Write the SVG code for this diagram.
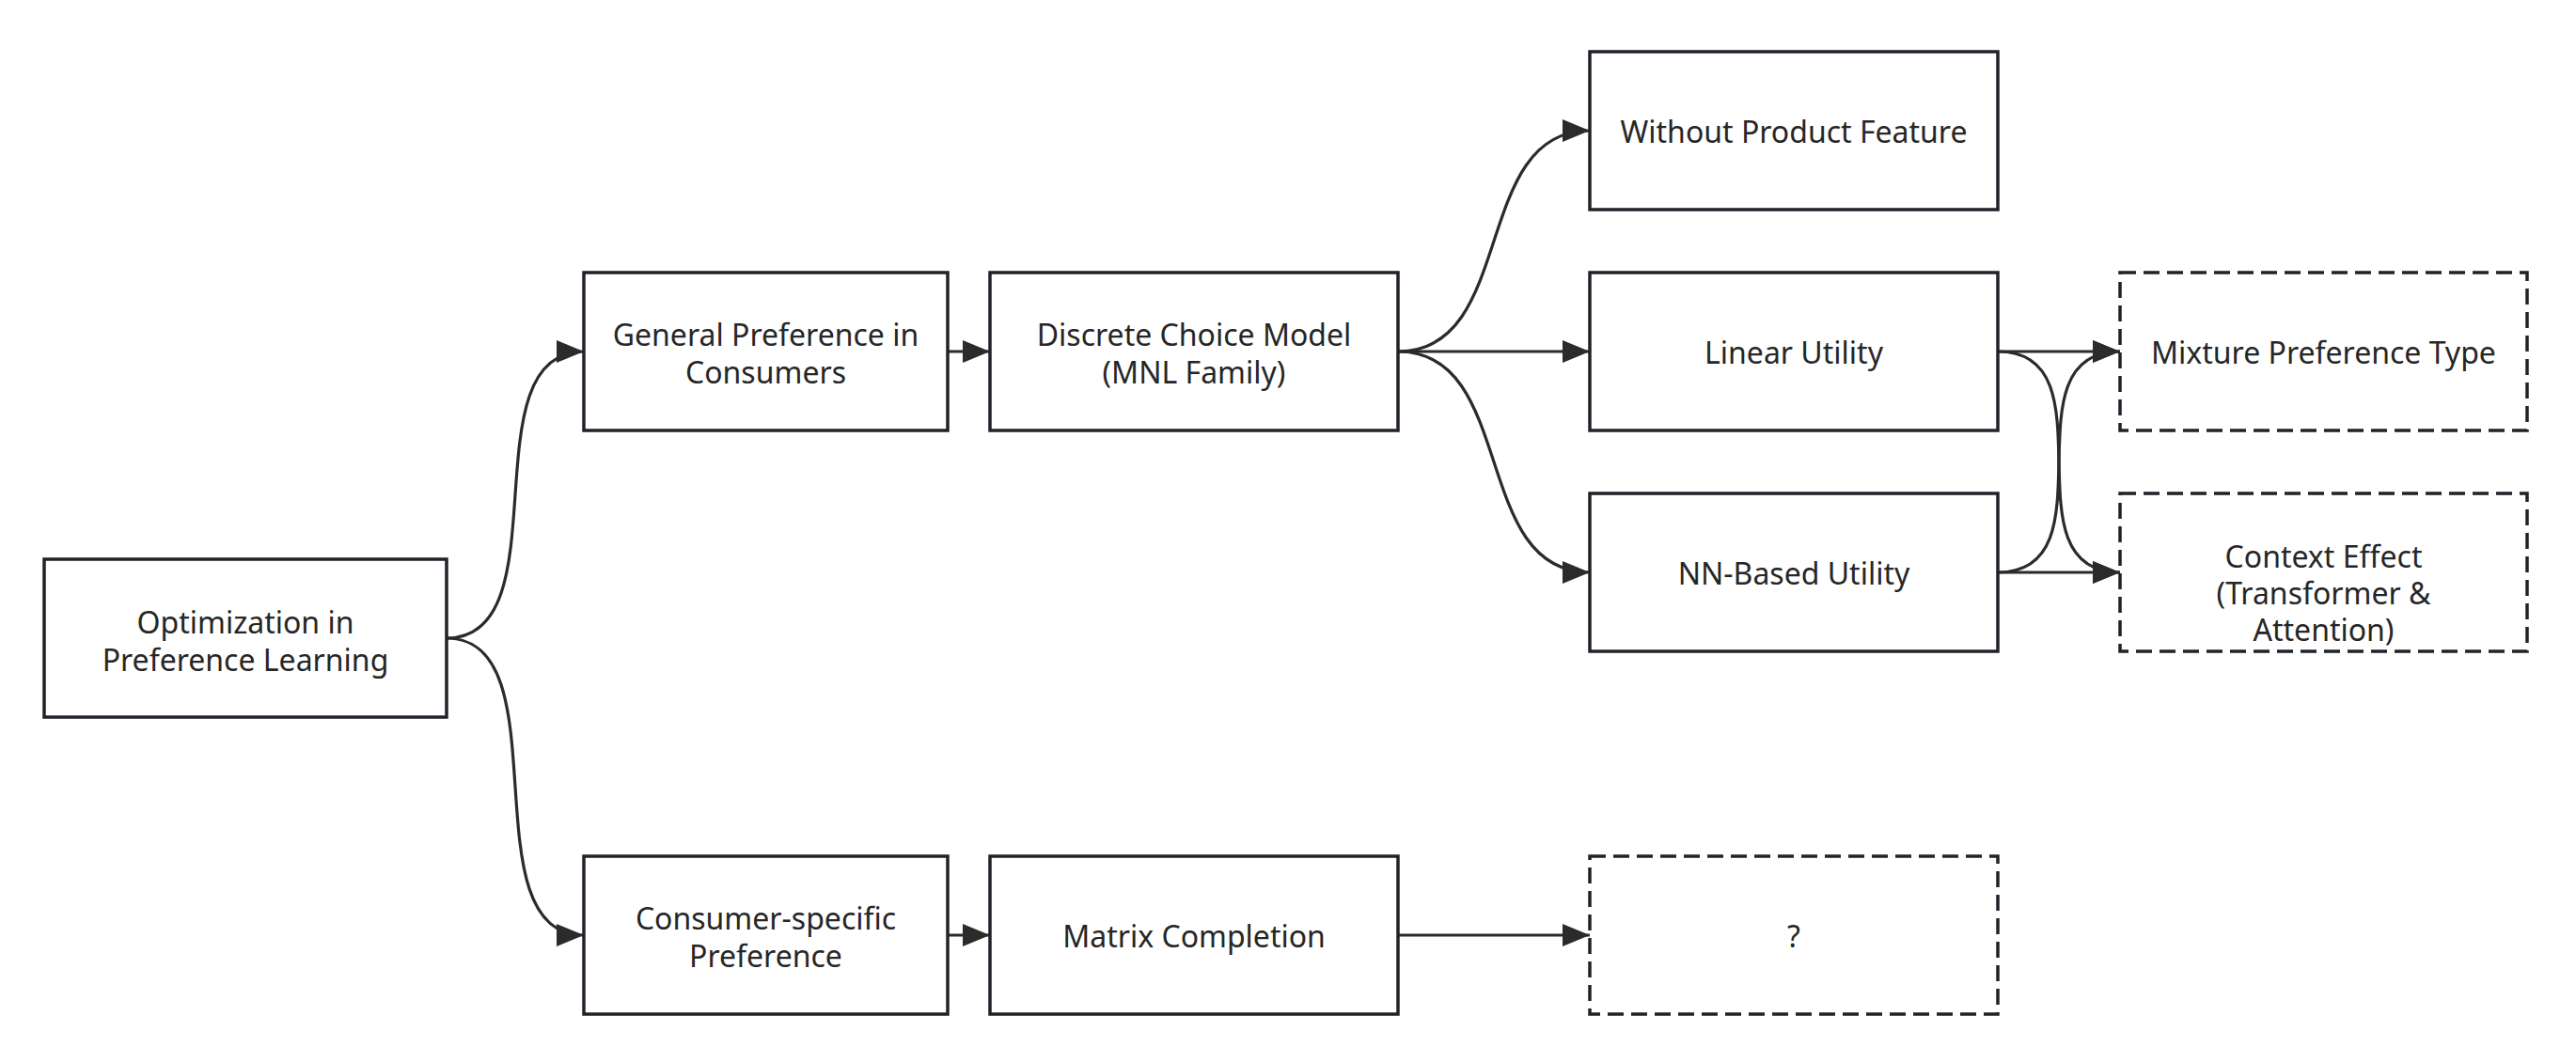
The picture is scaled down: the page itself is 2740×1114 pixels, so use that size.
<svg xmlns="http://www.w3.org/2000/svg" width="2740" height="1114" viewBox="0 0 2740 1114">
<style>
.box{fill:#ffffff;stroke:#1f2329;stroke-width:3.5}
.dash{stroke-dasharray:17 8}
.t{font-family:"Noto Sans","Open Sans","DejaVu Sans",sans-serif;font-size:32px;fill:#262626;text-anchor:middle}
.c{fill:none;stroke:#2b2b2b;stroke-width:3.2}
</style>
<defs>
<marker id="ah" markerUnits="userSpaceOnUse" markerWidth="32" markerHeight="26" refX="29" refY="12" orient="auto">
<path d="M0,0 L29,12 L0,24 z" fill="#2b2b2b"/>
</marker>
</defs>
<rect width="2740" height="1114" fill="#ffffff"/>
<g id="connectors">
<path class="c" marker-end="url(#ah)" d="M475,679 C600,679 496,374 621,374"/>
<path class="c" marker-end="url(#ah)" d="M475,679 C600,679 496,995 621,995"/>
<path class="c" marker-end="url(#ah)" d="M1008,374 L1053,374"/>
<path class="c" marker-end="url(#ah)" d="M1487,374 C1614,374 1564,139 1691,139"/>
<path class="c" marker-end="url(#ah)" d="M1487,374 L1691,374"/>
<path class="c" marker-end="url(#ah)" d="M1487,374 C1614,374 1564,609 1691,609"/>
<path class="c" marker-end="url(#ah)" d="M2125,374 L2255,374"/>
<path class="c" marker-end="url(#ah)" d="M2125,374 C2250,374 2130,609 2255,609"/>
<path class="c" marker-end="url(#ah)" d="M2125,609 C2250,609 2130,374 2255,374"/>
<path class="c" marker-end="url(#ah)" d="M2125,609 L2255,609"/>
<path class="c" marker-end="url(#ah)" d="M1008,995 L1053,995"/>
<path class="c" marker-end="url(#ah)" d="M1487,995 L1691,995"/>
</g>
<g id="n-opt"><rect class="box" x="47" y="595" width="428" height="168"/><text class="t" x="261" y="674">Optimization in</text><text class="t" x="261" y="714">Preference Learning</text></g>
<g id="n-general"><rect class="box" x="621" y="290" width="387" height="168"/><text class="t" x="814.5" y="368">General Preference in</text><text class="t" x="814.5" y="408">Consumers</text></g>
<g id="n-discrete"><rect class="box" x="1053" y="290" width="434" height="168"/><text class="t" x="1270" y="368">Discrete Choice Model</text><text class="t" x="1270" y="408">(MNL Family)</text></g>
<g id="n-without"><rect class="box" x="1691" y="55" width="434" height="168"/><text class="t" x="1908" y="152">Without Product Feature</text></g>
<g id="n-linear"><rect class="box" x="1691" y="290" width="434" height="168"/><text class="t" x="1908" y="387">Linear Utility</text></g>
<g id="n-nn"><rect class="box" x="1691" y="525" width="434" height="168"/><text class="t" x="1908" y="622">NN-Based Utility</text></g>
<g id="n-mixture"><rect class="box dash" x="2255" y="290" width="433" height="168"/><text class="t" x="2471.5" y="387">Mixture Preference Type</text></g>
<g id="n-context"><rect class="box dash" x="2255" y="525" width="433" height="168"/><text class="t" x="2471.5" y="604">Context Effect</text><text class="t" x="2471.5" y="643">(Transformer &amp;</text><text class="t" x="2471.5" y="682">Attention)</text></g>
<g id="n-consumer"><rect class="box" x="621" y="911" width="387" height="168"/><text class="t" x="814.5" y="989">Consumer-specific</text><text class="t" x="814.5" y="1029">Preference</text></g>
<g id="n-matrix"><rect class="box" x="1053" y="911" width="434" height="168"/><text class="t" x="1270" y="1008">Matrix Completion</text></g>
<g id="n-q"><rect class="box dash" x="1691" y="911" width="434" height="168"/><text class="t" x="1908" y="1008">?</text></g>
</svg>
